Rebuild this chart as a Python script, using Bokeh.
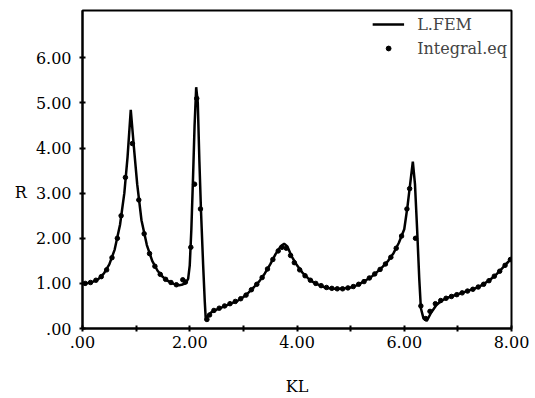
from bokeh.plotting import figure
from bokeh.models import Range1d, FixedTicker, Legend, LegendItem
from bokeh.embed import file_html
from bokeh.resources import INLINE

# L.FEM curve
fem_x = [0.00, 0.10, 0.20, 0.30, 0.40, 0.50, 0.60, 0.70, 0.78, 0.84, 0.90, 0.96, 1.02, 1.10, 1.20,
         1.30, 1.40, 1.50, 1.60, 1.70, 1.80, 1.85, 1.92, 1.97, 2.00, 2.03, 2.06, 2.09, 2.12, 2.15,
         2.18, 2.21, 2.25, 2.28, 2.30, 2.34, 2.40, 2.50, 2.60, 2.70, 2.80, 2.90, 3.00, 3.10, 3.20,
         3.30, 3.40, 3.50, 3.60, 3.70, 3.76, 3.82, 3.90, 4.00, 4.10, 4.20, 4.30, 4.40, 4.50, 4.60,
         4.70, 4.80, 4.90, 5.00, 5.10, 5.20, 5.30, 5.40, 5.50, 5.60, 5.70, 5.80, 5.90, 6.00, 6.06,
         6.11, 6.16, 6.20, 6.24, 6.28, 6.31, 6.36, 6.42, 6.50, 6.60, 6.70, 6.80, 6.90, 7.00, 7.10,
         7.20, 7.30, 7.40, 7.50, 7.60, 7.70, 7.80, 7.90, 8.00]
fem_y = [1.00, 1.01, 1.04, 1.10, 1.22, 1.42, 1.75, 2.30, 3.00, 3.80, 4.85, 4.00, 3.20, 2.40, 1.85,
         1.50, 1.28, 1.14, 1.05, 0.99, 0.96, 0.97, 1.00, 1.10, 1.40, 2.20, 3.30, 4.50, 5.35, 5.00,
         3.70, 2.60, 1.40, 0.60, 0.18, 0.28, 0.36, 0.42, 0.47, 0.52, 0.57, 0.62, 0.70, 0.80, 0.92,
         1.05, 1.22, 1.42, 1.65, 1.83, 1.88, 1.82, 1.60, 1.40, 1.24, 1.12, 1.03, 0.97, 0.92, 0.89,
         0.88, 0.88, 0.89, 0.91, 0.95, 1.01, 1.08, 1.16, 1.26, 1.37, 1.50, 1.67, 1.90, 2.20, 2.70,
         3.20, 3.70, 3.20, 2.20, 1.10, 0.45, 0.22, 0.17, 0.35, 0.52, 0.62, 0.68, 0.72, 0.76, 0.80,
         0.84, 0.88, 0.93, 1.00, 1.08, 1.18, 1.30, 1.43, 1.55]

# Integral equation points
ie_x = [0.05, 0.15, 0.25, 0.35, 0.45, 0.55, 0.65, 0.72, 0.80, 0.93, 1.05, 1.15, 1.25, 1.35, 1.45,
        1.55, 1.65, 1.75, 1.87, 1.92, 2.02, 2.09, 2.13, 2.20, 2.32, 2.37, 2.45, 2.55, 2.65, 2.75,
        2.85, 2.95, 3.05, 3.15, 3.25, 3.35, 3.45, 3.55, 3.65, 3.72, 3.80, 3.88, 3.95, 4.05, 4.15,
        4.25, 4.35, 4.45, 4.55, 4.65, 4.75, 4.85, 4.95, 5.05, 5.15, 5.25, 5.35, 5.45, 5.55, 5.65,
        5.75, 5.85, 5.95, 6.05, 6.10, 6.21, 6.31, 6.40, 6.48, 6.58, 6.68, 6.78, 6.88, 6.98, 7.08,
        7.18, 7.28, 7.38, 7.48, 7.58, 7.68, 7.78, 7.88, 7.98]
ie_y = [1.00, 1.02, 1.07, 1.15, 1.30, 1.57, 2.00, 2.50, 3.35, 4.10, 2.85, 2.10, 1.66, 1.38, 1.20,
        1.09, 1.02, 0.97, 1.08, 1.03, 1.80, 3.20, 5.10, 2.65, 0.20, 0.30, 0.40, 0.45, 0.50, 0.55,
        0.60, 0.66, 0.74, 0.86, 0.98, 1.13, 1.32, 1.53, 1.72, 1.80, 1.78, 1.62, 1.46, 1.30, 1.17,
        1.07, 1.00, 0.95, 0.91, 0.89, 0.88, 0.88, 0.90, 0.93, 0.98, 1.04, 1.12, 1.21, 1.31, 1.43,
        1.58, 1.78, 2.05, 2.65, 3.10, 2.00, 0.50, 0.22, 0.38, 0.55, 0.62, 0.67, 0.71, 0.75, 0.79,
        0.83, 0.87, 0.92, 0.98, 1.06, 1.16, 1.27, 1.40, 1.53]

x_ticks = [0, 1, 2, 3, 4, 5, 6, 7, 8]
x_tick_labels = [".00", "", "2.00", "", "4.00", "", "6.00", "", "8.00"]
y_ticks = [0, 1, 2, 3, 4, 5, 6]
y_tick_labels = [".00", "1.00", "2.00", "3.00", "4.00", "5.00", "6.00"]

FONT = "DejaVu Serif"

p = figure(width=535, height=398, output_backend="svg", toolbar_location=None,
           x_range=Range1d(0, 8), y_range=Range1d(0, 7.05),
           min_border_left=82, min_border_right=24, min_border_top=10, min_border_bottom=70)
p.grid.visible = False
p.outline_line_color = "black"
p.outline_line_width = 2
p.background_fill_color = "white"
p.border_fill_color = "white"

for ax in (p.xaxis[0], p.yaxis[0]):
    ax.axis_line_width = 2
    ax.axis_line_color = "black"
    ax.major_tick_in = 3
    ax.major_tick_out = 3
    ax.major_tick_line_width = 2
    ax.minor_tick_line_color = None
    ax.major_label_text_font = FONT
    ax.major_label_text_font_size = "16px"
    ax.major_label_text_color = "black"
    ax.axis_label_text_font = FONT
    ax.axis_label_text_font_size = "16px"
    ax.axis_label_text_font_style = "normal"
    ax.axis_label_text_color = "black"

p.xaxis.ticker = FixedTicker(ticks=x_ticks)
p.xaxis.major_label_overrides = {t: s for t, s in zip(x_ticks, x_tick_labels)}
p.xaxis.major_label_standoff = 4
p.xaxis.axis_label = "KL"
p.xaxis.axis_label_standoff = 26

p.yaxis.ticker = FixedTicker(ticks=y_ticks)
p.yaxis.major_label_standoff = 8
p.yaxis.major_label_overrides = {t: s for t, s in zip(y_ticks, y_tick_labels)}
p.yaxis.axis_label = "\n\nR"
p.yaxis.axis_label_orientation = "horizontal"
p.yaxis.axis_label_standoff = 6

line_r = p.line(fem_x, fem_y, line_color="black", line_width=2.5)
dots_r = p.scatter(ie_x, ie_y, size=4.5, color="black")

legend = Legend(items=[LegendItem(label="L.FEM", renderers=[line_r]),
                       LegendItem(label="Integral.eq", renderers=[dots_r])],
                location="top_right", border_line_color=None, background_fill_alpha=0,
                label_text_font=FONT, label_text_font_size="16px", glyph_width=32,
                glyph_height=12, label_height=20,
                label_standoff=13, spacing=4, padding=6, margin=4)
p.add_layout(legend)

open("out.html", "w").write(file_html(p, INLINE))
